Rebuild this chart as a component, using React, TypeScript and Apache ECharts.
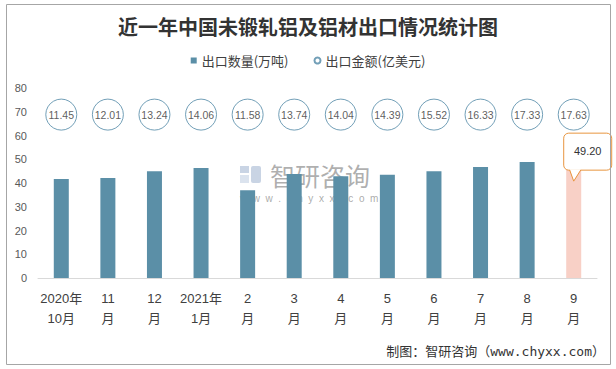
import React, { useEffect, useRef } from "react";
import * as echarts from "echarts";

const categories = ["2020年\n10月", "11\n月", "12\n月", "2021年\n1月", "2\n月", "3\n月", "4\n月", "5\n月", "6\n月", "7\n月", "8\n月", "9\n月"];
const quantity = [41.7, 42.1, 45.0, 46.3, 37.0, 43.8, 42.8, 43.5, 45.0, 46.7, 48.8, 49.2];
const amount = [11.45, 12.01, 13.24, 14.06, 11.58, 13.74, 14.04, 14.39, 15.52, 16.33, 17.33, 17.63];
const yTicks = { min: 0, max: 80, interval: 10 };
const amountRow = 68.8;
const titleText = "近一年中国未锻轧铝及铝材出口情况统计图";
const seriesNames = ["出口数量(万吨)", "出口金额(亿美元)"];
const footerText = "制图：智研咨询（www.chyxx.com）";

const BAR = "#5b8fa7";
const PINK = "#f8d0c6";
const CIRCLE = "#4f87a5";
const ORANGE = "#e8953f";
const CJK = "'Noto Sans CJK SC', 'Noto Sans', sans-serif";
const SANS = "'Liberation Sans', Arial, 'Noto Sans CJK SC', sans-serif";

export default function App() {
  const ref = useRef<HTMLDivElement>(null);
  useEffect(() => {
    if (!ref.current) return;
    const chart = echarts.init(ref.current, undefined, { renderer: "svg" });
    const lastIdx = quantity.length - 1;
    chart.setOption({
      animation: false,
      backgroundColor: "#fff",
      title: {
        text: titleText,
        left: "center",
        top: 11,
        textStyle: { fontFamily: CJK, fontSize: 20, fontWeight: "bold", color: "#333" },
      },
      legend: {
        top: 49,
        left: "center",
        itemWidth: 6,
        itemHeight: 6,
        itemGap: 25,
        textStyle: { fontFamily: CJK, fontSize: 13, color: "#404040" },
        data: [
          { name: seriesNames[0], icon: "rect" },
          { name: seriesNames[1], icon: "circle" },
        ],
      },
      grid: { left: 38, right: 19, top: 88, bottom: 91, containLabel: false },
      xAxis: {
        type: "category",
        data: categories,
        axisLine: { lineStyle: { color: "#d9d9d9" } },
        axisTick: { show: false },
        axisLabel: { interval: 0, fontFamily: SANS, fontSize: 13, lineHeight: 20, color: "#404040", margin: 10 },
      },
      yAxis: {
        type: "value",
        min: yTicks.min,
        max: yTicks.max,
        interval: yTicks.interval,
        axisLine: { show: false },
        axisTick: { show: false },
        splitLine: { show: false },
        axisLabel: { fontFamily: SANS, fontSize: 11, color: "#595959", margin: 11 },
      },
      series: [
        {
          name: seriesNames[0],
          type: "bar",
          barWidth: 15,
          z: 2,
          itemStyle: { color: BAR },
          data: quantity.map((v, i) => (i === lastIdx ? { value: v, itemStyle: { color: PINK } } : v)),
        },
        {
          name: seriesNames[1],
          type: "scatter",
          symbol: "circle",
          symbolSize: 31,
          z: 3,
          itemStyle: { color: "#fff", borderColor: CIRCLE, borderWidth: 1 },
          label: {
            show: true,
            position: "inside",
            fontFamily: SANS,
            fontSize: 10.5,
            color: "#333",
            formatter: (p: any) => p.value[2].toFixed(2),
          },
          data: amount.map((v, i) => [i, amountRow, v]),
        },
      ],
    });

    const p = chart.convertToPixel({ xAxisIndex: 0, yAxisIndex: 0 }, [lastIdx, quantity[lastIdx]]) as number[];
    const px = p[0];
    const py = p[1];
    chart.setOption({
      graphic: [
        {
          type: "rect",
          z: 200,
          silent: true,
          shape: { x: 6.5, y: 4.5, width: 604, height: 360 },
          style: { fill: "none", stroke: "#a6a6a6", lineWidth: 1 },
        },
        {
          type: "group",
          z: 0,
          silent: true,
          children: [
            { type: "rect", z: 0, shape: { x: 240, y: 166, width: 9, height: 7 }, style: { fill: "#c9d4e4" } },
            { type: "rect", z: 0, shape: { x: 240, y: 175, width: 9, height: 8 }, style: { fill: "#dbe3ee" } },
            { type: "rect", z: 0, shape: { x: 251, y: 166, width: 10, height: 17, r: 2 }, style: { fill: "#c9d4e4" } },
            {
              type: "text",
              z: 0,
              style: { text: "智研咨询", x: 270, y: 175, fontFamily: CJK, fontSize: 25, fill: "rgba(140,140,140,0.7)", verticalAlign: "middle" },
            },
            {
              type: "text",
              z: 0,
              style: { text: "w  w  w  .  c  h  y  x  x  .  c  o  m", x: 240, y: 198, fontFamily: SANS, fontSize: 10, fill: "rgba(150,150,150,0.8)", verticalAlign: "middle" },
            },
          ],
        },
        {
          type: "group",
          z: 100,
          silent: true,
          children: [
            {
              type: "rect",
              z: 100,
              shape: { x: px - 10, y: py - 28, width: 48, height: 37, r: 5 },
              style: { fill: "#fff", stroke: ORANGE, lineWidth: 1 },
            },
            {
              type: "polygon",
              z: 101,
              shape: { points: [[px - 4, py + 8], [px + 7, py + 8], [px, py + 20]] },
              style: { fill: "#fff", stroke: "none" },
            },
            {
              type: "polyline",
              z: 102,
              shape: { points: [[px - 4, py + 9], [px, py + 20], [px + 7, py + 9]] },
              style: { fill: "none", stroke: ORANGE, lineWidth: 1 },
            },
            {
              type: "text",
              z: 103,
              style: {
                text: quantity[lastIdx].toFixed(2),
                x: px + 14,
                y: py - 10,
                align: "center",
                verticalAlign: "middle",
                fontFamily: SANS,
                fontSize: 11,
                fill: "#333",
              },
            },
          ],
        },
        {
          type: "text",
          z: 100,
          silent: true,
          style: {
            text: footerText,
            x: 605,
            y: 351,
            align: "right",
            verticalAlign: "middle",
            fontFamily: "'DejaVu Sans Mono', 'Noto Sans CJK SC', monospace",
            fontSize: 13,
            fill: "#333",
          },
        },
      ],
    });
    return () => chart.dispose();
  }, []);
  return <div ref={ref} style={{ position: "fixed", left: 0, top: 0, width: 616, height: 369 }} />;
}
